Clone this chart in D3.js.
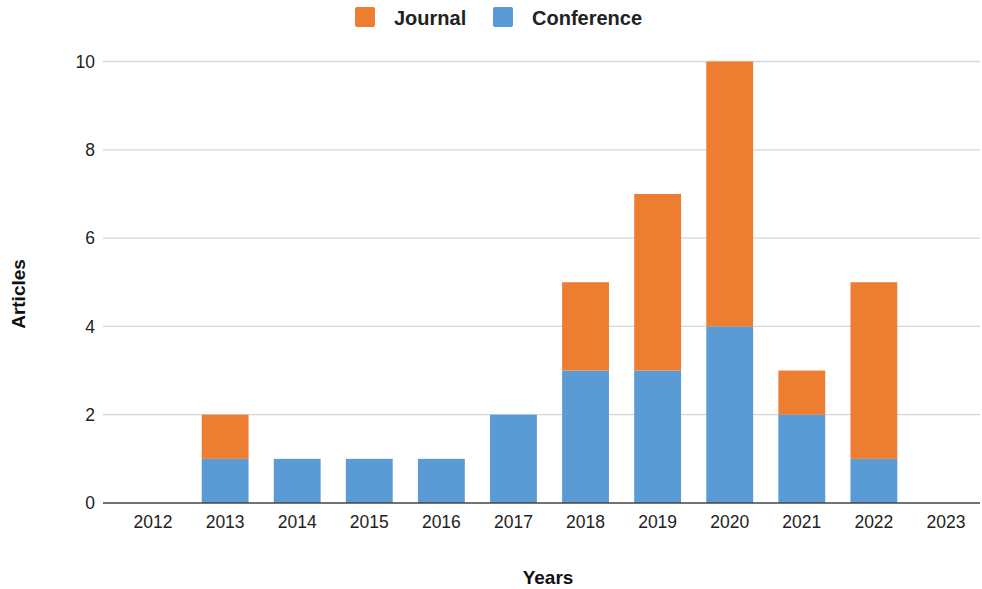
<!DOCTYPE html>
<html>
<head>
<meta charset="utf-8">
<script src="https://cdn.jsdelivr.net/npm/d3@7"></script>
<style>
  html, body { margin: 0; padding: 0; background: #fff; }
  svg { display: block; font-family: "Liberation Sans", Arial, sans-serif; }
</style>
</head>
<body>
<svg id="chart" width="982" height="589"></svg>
<script>
// Articles per year, split by venue type
const years = ["2012", "2013", "2014", "2015", "2016", "2017", "2018", "2019", "2020", "2021", "2022", "2023"];
const conference = [0, 1, 1, 1, 1, 2, 3, 3, 4, 2, 1, 0];
const journal    = [0, 1, 0, 0, 0, 0, 2, 4, 6, 1, 4, 0];
const yTicks = [0, 2, 4, 6, 8, 10];
const seriesNames = ["Conference", "Journal"];
const legendOrder = ["Journal", "Conference"];

const colors = { Journal: "#ED7D31", Conference: "#5B9BD5" };

const svg = d3.select("#chart");

const x = d3.scaleBand()
  .domain(years)
  .range([117, 982])
  .paddingInner(0.35)
  .paddingOuter(0.175);

const y = d3.scaleLinear()
  .domain([0, 10])
  .range([503, 61.5]);

const rows = years.map((yr, i) => ({ year: yr, Conference: conference[i], Journal: journal[i] }));
const stacked = d3.stack().keys(seriesNames)(rows);

// horizontal gridlines
svg.append("g")
  .selectAll("line")
  .data(yTicks.filter(t => t !== 0))
  .join("line")
  .attr("x1", 103).attr("x2", 980)
  .attr("y1", d => y(d)).attr("y2", d => y(d))
  .attr("stroke", "#d6d6d6")
  .attr("stroke-width", 1.3);

// y tick labels
const yAxis = d3.axisLeft(y).tickValues(yTicks).tickSize(0).tickPadding(0);
const gy = svg.append("g").attr("transform", "translate(95,0)").call(yAxis);
gy.select(".domain").remove();
gy.selectAll("text")
  .attr("font-family", "Liberation Sans, Arial, sans-serif")
  .attr("font-size", 17.5)
  .attr("fill", "#222");

// stacked bars
svg.append("g")
  .selectAll("g")
  .data(stacked)
  .join("g")
  .attr("fill", d => colors[d.key])
  .selectAll("rect")
  .data(d => d)
  .join("rect")
  .attr("x", d => x(d.data.year))
  .attr("width", x.bandwidth())
  .attr("y", d => y(d[1]))
  .attr("height", d => y(d[0]) - y(d[1]));

// baseline + x tick labels
const xAxis = d3.axisBottom(x).tickSize(0).tickPadding(13);
const gx = svg.append("g").attr("transform", `translate(0,${y(0)})`).call(xAxis);
gx.select(".domain").remove();
gx.selectAll("text")
  .attr("font-family", "Liberation Sans, Arial, sans-serif")
  .attr("font-size", 17.5)
  .attr("fill", "#222");
svg.append("line")
  .attr("x1", 103).attr("x2", 980)
  .attr("y1", y(0)).attr("y2", y(0))
  .attr("stroke", "#444")
  .attr("stroke-width", 1.5);

// axis titles
svg.append("text")
  .attr("x", 548).attr("y", 584)
  .attr("text-anchor", "middle")
  .attr("font-weight", "bold")
  .attr("font-size", 19)
  .attr("fill", "#111")
  .text("Years");

svg.append("text")
  .attr("transform", "translate(25,294) rotate(-90)")
  .attr("text-anchor", "middle")
  .attr("font-weight", "bold")
  .attr("font-size", 19)
  .attr("fill", "#111")
  .text("Articles");

// legend
const legendX = { Journal: 355, Conference: 493 };
const legend = svg.append("g")
  .selectAll("g")
  .data(legendOrder)
  .join("g")
  .attr("transform", d => `translate(${legendX[d]},7)`);
legend.append("rect")
  .attr("width", 20).attr("height", 20).attr("rx", 2)
  .attr("fill", d => colors[d]);
legend.append("text")
  .attr("x", 39).attr("y", 17.5)
  .attr("font-weight", "bold")
  .attr("font-size", 20)
  .attr("fill", "#222")
  .text(d => d);
</script>
</body>
</html>
